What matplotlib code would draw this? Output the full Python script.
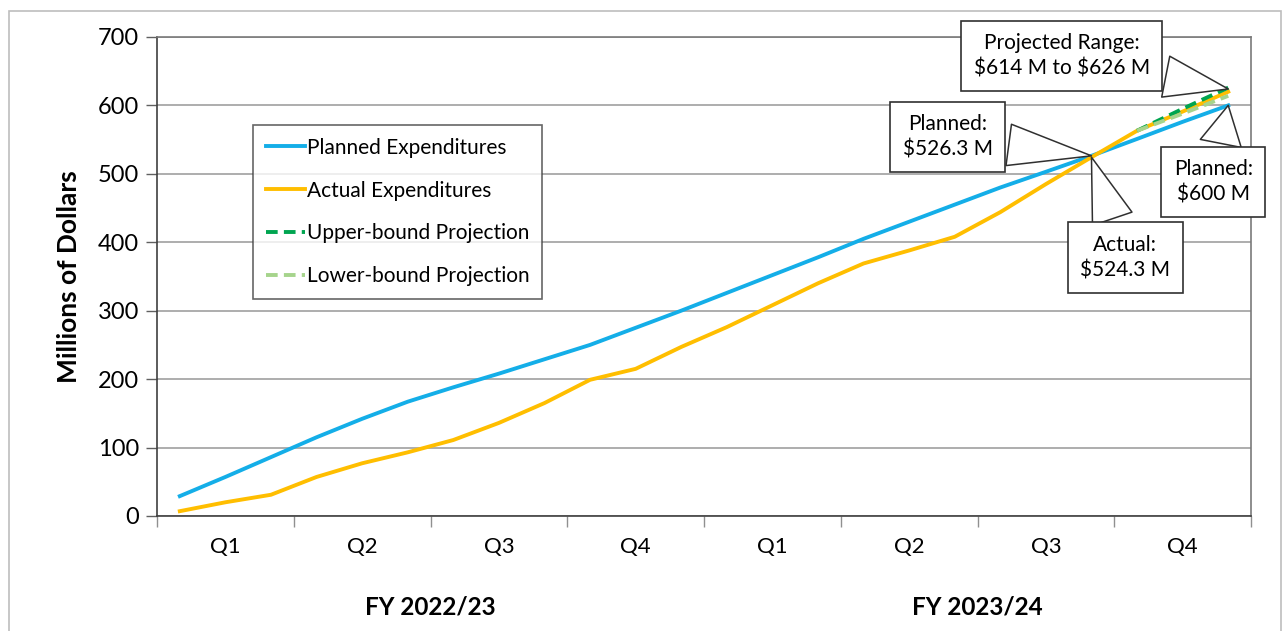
import matplotlib
matplotlib.use("Agg")
import matplotlib.pyplot as plt
from matplotlib.patches import Rectangle
import numpy as np

plt.rcParams['font.family'] = ['Lato', 'DejaVu Sans']
plt.rcParams['text.parse_math'] = False

# monthly cumulative expenditures, millions of dollars (24 months, FY 2022/23 - FY 2023/24)
months = np.arange(1, 25)
planned = [29, 57, 86, 115, 142, 167, 188, 208, 229, 250, 275, 300,
           326, 352, 378, 405, 430, 455, 480, 503, 526.3, 551, 576, 600]
actual = [7, 20, 31, 57, 77, 93, 111, 136, 165, 199, 215, 247,
          276, 308, 340, 369, 388, 408, 444, 485, 524.3, 563, 591, 620]
proj_months = [22, 23, 24]
upper_proj = [563, 595, 626]
lower_proj = [563, 588, 614]

quarters = ['Q1', 'Q2', 'Q3', 'Q4'] * 2
fiscal_years = ['FY 2022/23', 'FY 2023/24']

blue = '#14AEE8'
orange = '#FFBE00'
dkgreen = '#00A550'
ltgreen = '#A6D48C'

fig = plt.figure(figsize=(12.86, 6.31), dpi=100)
ax = fig.add_axes([0.1221, 0.1823, 0.8507, 0.7591])

# outer chart frame
fig.patches.append(Rectangle((9 / 1286, -0.05), 1272 / 1286, 1.05 - 11 / 631,
                             transform=fig.transFigure, fill=False,
                             edgecolor='#BDBDBD', linewidth=1.2))

x = months - 0.5
xp = np.array(proj_months) - 0.5
lw = 2.8
ax.plot(x, planned, color=blue, lw=lw, label='Planned Expenditures', zorder=3)
ax.plot(x, actual, color=orange, lw=lw, label='Actual Expenditures', zorder=3)
ax.plot(xp, upper_proj, color=dkgreen, lw=lw, ls=(0, (3, 1.6)),
        label='Upper-bound Projection', zorder=4)
ax.plot(xp, lower_proj, color=ltgreen, lw=lw, ls=(0, (3, 1.6)),
        label='Lower-bound Projection', zorder=4)

ax.set_xlim(0, 24)
ax.set_ylim(0, 700)
ax.set_yticks(range(0, 701, 100))
ax.yaxis.grid(True, color='#A0A0A0', lw=1.2)
ax.set_axisbelow(True)
ax.tick_params(axis='y', labelsize=17, length=8, width=1, color='#606060', pad=5)

ax.set_xticks(range(0, 25, 3))
ax.set_xticklabels([])
ax.tick_params(axis='x', which='major', length=8, width=1, color='#909090')
ax.set_xticks(np.arange(1.5, 24, 3), minor=True)
ax.set_xticklabels(quarters, minor=True)
ax.tick_params(axis='x', which='minor', length=0, labelsize=16, pad=15)

for i, fy in enumerate(fiscal_years):
    ax.text(6 + 12 * i, -0.19, fy, transform=ax.get_xaxis_transform(),
            ha='center', va='center', fontsize=17.5, fontweight='bold')

ax.set_ylabel('Millions of Dollars', fontsize=19, fontweight='bold', labelpad=12)

for s in ['left', 'bottom']:
    ax.spines[s].set_color('#404040')
    ax.spines[s].set_linewidth(1.2)
for s in ['top', 'right']:
    ax.spines[s].set_color('#7A7A7A')
    ax.spines[s].set_linewidth(1.2)

leg = ax.legend(loc='upper left', bbox_to_anchor=(0.0878, 0.816), borderaxespad=0,
                fontsize=15, frameon=True, fancybox=False, edgecolor='#404040',
                handlelength=1.9, handletextpad=0.1, labelspacing=1.1,
                borderpad=0.6)
leg.get_frame().set_linewidth(1.2)

box = dict(boxstyle='square,pad=0.6', fc='white', ec='#303030', lw=1.2)
arrow = dict(arrowstyle='wedge,tail_width=1.5,shrink_factor=0.5', fc='white',
             ec='#303030', lw=1.1, mutation_scale=20, shrinkB=0)

callouts = [
    ('Projected Range:\n$614 M to $626 M', (23.5, 624), (19.85, 672)),
    ('Planned:\n$526.3 M', (20.5, 526.3), (17.35, 554)),
    ('Actual:\n$524.3 M', (20.5, 524.3), (21.24, 378)),
    ('Planned:\n$600 M', (23.5, 600), (23.17, 488)),
]
for txt, pt, pos in callouts:
    ax.annotate(txt, xy=pt, xytext=pos, ha='center', va='center', fontsize=15,
                linespacing=1.35, bbox=box, arrowprops=arrow,
                annotation_clip=False, zorder=6)

fig.savefig('out.png', dpi=100, facecolor='white')
